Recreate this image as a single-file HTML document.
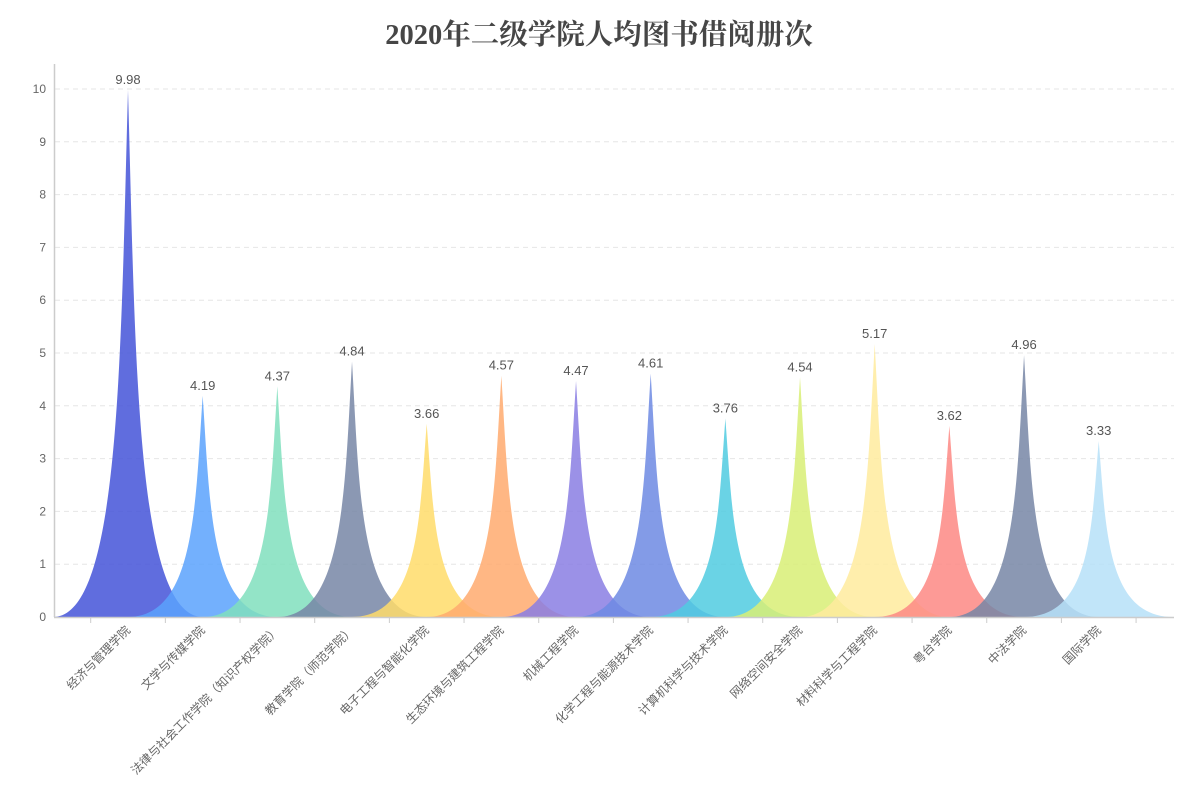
<!DOCTYPE html><html><head><meta charset="utf-8"><style>body{margin:0;background:#fff}svg{display:block}</style></head><body>
<svg width="1200" height="800" xmlns="http://www.w3.org/2000/svg" font-family="Liberation Sans, Noto Sans CJK SC, sans-serif">
<text x="599" y="44" text-anchor="middle" font-size="28.5" font-weight="bold" fill="#464646" font-family="Liberation Serif, Noto Serif CJK SC, serif">2020年二级学院人均图书借阅册次</text>
<g id="grid" stroke="#e6e6e6" stroke-dasharray="5,4"></g>
<g id="ylab" font-size="12" fill="#666" text-anchor="end"></g>
<g id="bars"></g>
<line x1="54" y1="617.5" x2="1174" y2="617.5" stroke="#ccc" stroke-width="1.5"/>
<line x1="54.5" y1="64" x2="54.5" y2="617" stroke="#ccc" stroke-width="1.5"/>
<g id="ticks" stroke="#ccc"></g>
<g id="xlab" font-size="12" fill="#666" text-anchor="end"></g>
<g id="vlab" font-size="13" fill="#555" text-anchor="middle"></g>
</svg>
<script>
const ns="http://www.w3.org/2000/svg";
function el(p,t,a,txt){const e=document.createElementNS(ns,t);for(const k in a)e.setAttribute(k,a[k]);if(txt!=null)e.textContent=txt;document.getElementById(p).appendChild(e);return e;}
const y0=617,u=52.8;
for(let i=1;i<=10;i++)el('grid','line',{x1:55,x2:1174,y1:y0-i*u,y2:y0-i*u});
for(let i=0;i<=10;i++)el('ylab','text',{x:46,y:y0-i*u+4},i);
const names=["经济与管理学院","文学与传媒学院","法律与社会工作学院（知识产权学院）","教育学院（师范学院）","电子工程与智能化学院","生态环境与建筑工程学院","机械工程学院","化学工程与能源技术学院","计算机科学与技术学院","网络空间安全学院","材料科学与工程学院","粤台学院","中法学院","国际学院"];
const vals=[9.98,4.19,4.37,4.84,3.66,4.57,4.47,4.61,3.76,4.54,5.17,3.62,4.96,3.33];
const cols=["#4454d8","#5aa2fd","#80dfbd","#7786a6","#ffdc6a","#ffaa6e","#8a7ee3","#6d8ae3","#50cbe0","#d8ee76","#ffeb9e","#fd8884","#7786a6","#b6e1f8"];
const bw=74.67;
for(let k=0;k<15;k++){const x=90.7+bw*k;el('ticks','line',{x1:x,x2:x,y1:618,y2:623});}
vals.forEach((v,i)=>{
 const c=128+bw*i,h=v*u,w=75,top=y0-h;
 const X=t=>c-w+t*w/5,Y=s=>top+s*h/10;
 const d=`M${X(0)},${Y(10)} L${X(10)},${Y(10)} C${X(5.5)},${Y(10)} ${X(5.5)},${Y(5)} ${X(5)},${Y(0)} C${X(4.5)},${Y(5)} ${X(4.5)},${Y(10)} ${X(0)},${Y(10)} Z`;
 el('bars','path',{d,fill:cols[i],'fill-opacity':0.85});
 el('vlab','text',{x:c,y:top-6},v.toFixed(2));
 el('xlab','text',{x:c+3,y:631,transform:`rotate(-45 ${c+3} 631)`},names[i]);
});
</script>
</body></html>
